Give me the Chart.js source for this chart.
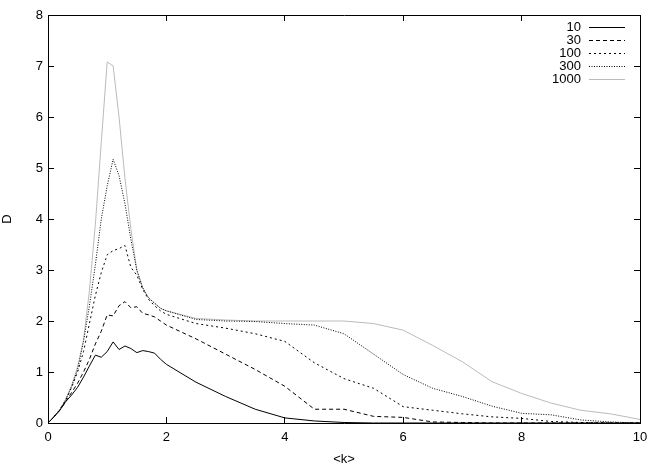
<!DOCTYPE html>
<html>
<head>
<meta charset="utf-8">
<script src="https://cdn.jsdelivr.net/npm/chart.js@4"></script>
<style>
  html, body { margin: 0; padding: 0; background: #fff; }
  #wrap { width: 664px; height: 465px; }
</style>
</head>
<body>
<div id="wrap"><canvas id="chart" width="664" height="465"></canvas></div>
<script>
// <k> sample points
const kValues = [0, 0.1, 0.2, 0.3, 0.4, 0.5, 0.6, 0.7, 0.8, 0.9, 1.0, 1.1, 1.2, 1.3, 1.4, 1.5, 1.6, 1.7, 1.8, 1.9, 2.0,
  2.5, 3.0, 3.5, 4.0, 4.5, 5.0, 5.5, 6.0, 6.5, 7.0, 7.5, 8.0, 8.5, 9.0, 9.5, 10.0];

const seriesNames = ["10", "30", "100", "300", "1000"];

const d10 = [0, 0.12, 0.25, 0.42, 0.55, 0.7, 0.9, 1.12, 1.33, 1.29, 1.40, 1.59, 1.44, 1.51, 1.46, 1.38, 1.42, 1.40, 1.37, 1.25, 1.15,
  0.8, 0.52, 0.27, 0.1, 0.04, 0.01, 0, 0, 0, 0, 0, 0, 0, 0, 0, 0];
const d30 = [0, 0.12, 0.25, 0.42, 0.6, 0.78, 1.0, 1.25, 1.55, 1.8, 2.12, 2.1, 2.3, 2.38, 2.26, 2.28, 2.15, 2.12, 2.08, 2.0, 1.92,
  1.65, 1.35, 1.05, 0.72, 0.27, 0.27, 0.13, 0.11, 0.02, 0.01, 0, 0, 0, 0, 0, 0];
const d100 = [0, 0.12, 0.26, 0.45, 0.7, 1.0, 1.4, 1.95, 2.5, 2.95, 3.3, 3.38, 3.42, 3.48, 3.05, 2.9, 2.62, 2.42, 2.3, 2.2, 2.13,
  1.95, 1.86, 1.75, 1.6, 1.18, 0.87, 0.68, 0.32, 0.25, 0.18, 0.12, 0.09, 0.03, 0.01, 0, 0];
const d300 = [0, 0.12, 0.26, 0.46, 0.72, 1.05, 1.6, 2.3, 3.1, 4.0, 4.65, 5.17, 4.85, 4.3, 3.6, 3.0, 2.65, 2.45, 2.35, 2.25, 2.2,
  2.03, 2.0, 1.99, 1.95, 1.92, 1.75, 1.35, 0.95, 0.68, 0.52, 0.33, 0.19, 0.16, 0.06, 0.02, 0];
const d1000 = [0, 0.12, 0.26, 0.46, 0.74, 1.1, 1.63, 2.6, 3.9, 5.5, 7.08, 7.0, 6.0, 4.8, 3.8, 3.0, 2.65, 2.45, 2.35, 2.25, 2.2,
  2.05, 2.02, 2.0, 2.0, 2.0, 2.0, 1.95, 1.82, 1.52, 1.2, 0.81, 0.58, 0.39, 0.25, 0.18, 0.07];

const xTicks = [0, 2, 4, 6, 8, 10];
const yTicks = [0, 1, 2, 3, 4, 5, 6, 7, 8];

const FONT = "'Liberation Sans', Arial, sans-serif";

function pts(ys) {
  return kValues.map((k, i) => ({ x: k, y: ys[i] }));
}

const styles = [
  { color: "#000000", dash: [] },
  { color: "#000000", dash: [4, 3] },
  { color: "#000000", dash: [2, 3] },
  { color: "#000000", dash: [1, 1.5] },
  { color: "#bbbbbb", dash: [] }
];

const allSeries = [d10, d30, d100, d300, d1000];

const datasets = allSeries.map((ys, i) => ({
  label: seriesNames[i],
  data: pts(ys),
  borderColor: styles[i].color,
  borderDash: styles[i].dash,
  borderWidth: 1,
  pointRadius: 0,
  fill: false,
  tension: 0
}));

// legend in the top right: label right-aligned, then a line sample
const legendPlugin = {
  id: "gpLegend",
  afterDraw(chart) {
    const ctx = chart.ctx;
    const a = chart.chartArea;
    ctx.save();
    ctx.font = "13px " + FONT;
    ctx.textAlign = "right";
    ctx.textBaseline = "middle";
    chart.data.datasets.forEach((ds, i) => {
      const y = Math.round(a.top + 12 + i * 13) + 0.5;
      ctx.fillStyle = "#000";
      ctx.fillText(ds.label, a.right - 59, y);
      ctx.strokeStyle = ds.borderColor;
      ctx.lineWidth = 1;
      ctx.setLineDash(ds.borderDash);
      ctx.beginPath();
      ctx.moveTo(a.right - 51, y);
      ctx.lineTo(a.right - 15, y);
      ctx.stroke();
    });
    ctx.restore();
  }
};

// shared look for the four sides: black border, short inward ticks
function side(extra) {
  return Object.assign({
    type: "linear",
    grid: { display: true, drawOnChartArea: false, drawTicks: true, tickLength: -6, tickColor: "#000", lineWidth: 1 },
    border: { display: true, color: "#000", width: 1 }
  }, extra);
}

new Chart(document.getElementById("chart"), {
  type: "line",
  data: { datasets: datasets },
  options: {
    responsive: false,
    animation: false,
    layout: { padding: { left: 0, right: 24, top: 15, bottom: 0 } },
    plugins: {
      legend: { display: false },
      tooltip: { enabled: false }
    },
    scales: {
      x: side({
        position: "bottom",
        min: 0, max: 10,
        afterFit: s => { s.height = 42; s.paddingLeft = 0; s.paddingRight = 0; },
        afterBuildTicks: s => { s.ticks = xTicks.map(v => ({ value: v })); },
        ticks: { color: "#000", font: { family: FONT, size: 13 }, padding: 13, maxRotation: 0 },
        title: { display: true, text: "<k>", color: "#000", font: { family: FONT, size: 13 }, padding: { top: 0, bottom: -2 } }
      }),
      x2: side({
        position: "top",
        min: 0, max: 10,
        afterFit: s => { s.height = 0; s.paddingLeft = 0; s.paddingRight = 0; },
        afterBuildTicks: s => { s.ticks = xTicks.map(v => ({ value: v })); },
        ticks: { display: false }
      }),
      y: side({
        position: "left",
        min: 0, max: 8,
        afterFit: s => { s.width = 48; s.paddingTop = 0; s.paddingBottom = 0; },
        afterBuildTicks: s => { s.ticks = yTicks.map(v => ({ value: v })); },
        ticks: { color: "#000", font: { family: FONT, size: 13 }, padding: 11 },
        title: { display: true, text: "D", color: "#000", font: { family: FONT, size: 13 }, padding: 0 }
      }),
      y2: side({
        position: "right",
        min: 0, max: 8,
        afterFit: s => { s.width = 0; s.paddingTop = 0; s.paddingBottom = 0; },
        afterBuildTicks: s => { s.ticks = yTicks.map(v => ({ value: v })); },
        ticks: { display: false }
      })
    }
  },
  plugins: [legendPlugin]
});
</script>
</body>
</html>
